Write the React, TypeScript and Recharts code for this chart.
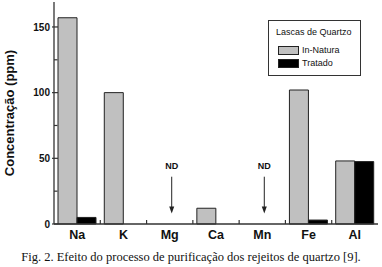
import React from 'react';
import { BarChart, Bar, XAxis, YAxis, Legend, ReferenceLine } from 'recharts';

const elements = ['Na', 'K', 'Mg', 'Ca', 'Mn', 'Fe', 'Al'];
const inNatura = [157, 100, 0, 12, 0, 102, 48];
const tratado = [5, 0, 0, 0, 0, 3, 47.5];
const yTicks = [0, 25, 50, 75, 100, 125, 150];
const yMajorStep = 50;
const yMax = 169;
const seriesNames = ['In-Natura', 'Tratado'];
const seriesColors = ['#c0c0c0', '#000000'];
const legendTitle = 'Lascas de Quartzo';
const yLabel = 'Concentração (ppm)';
const caption = 'Fig. 2. Efeito do processo de purificação dos rejeitos de quartzo [9].';
const ndElements = ['Mg', 'Mn'];
const ndArrowTop = 36;
const ndArrowTip = 8;
const ndText = 'ND';

const data = elements.map((e, i) => ({ element: e, inNatura: inNatura[i], tratado: tratado[i] }));

const FONT = '"Liberation Sans", Arial, Helvetica, sans-serif';
const AXIS = '#333';
const Y_MARGIN = 4;
const X_MARGIN = 6;

const YTick = (props: any) => {
  const { x, y, payload } = props;
  const v = payload.value;
  const axisX = x + Y_MARGIN;
  const major = v % yMajorStep === 0;
  return (
    <g>
      <line x1={major ? axisX - 2 : axisX} x2={axisX + (major ? 4 : 3.5)} y1={y} y2={y} stroke={AXIS} strokeWidth={1.2} />
      {major && (
        <text x={x} y={y} dy="0.36em" textAnchor="end" fontSize={10} fontWeight="bold" fill="#111" fontFamily={FONT}>
          {v}
        </text>
      )}
    </g>
  );
};

const XTick = (props: any) => {
  const { x, y, payload, index } = props;
  const axisY = y - X_MARGIN;
  const half = typeof payload.offset === 'number' && payload.offset > 0 ? payload.offset : 23.15;
  const last = index === elements.length - 1;
  return (
    <g>
      {!last && <line x1={x + half} x2={x + half} y1={axisY} y2={axisY - 4} stroke={AXIS} strokeWidth={1.2} />}
      <text x={x} y={y} dy="0.71em" textAnchor="middle" fontSize={12.5} fontWeight="bold" fill="#111" fontFamily={FONT}>
        {payload.value}
      </text>
    </g>
  );
};

const ArrowShape = (props: any) => {
  const { x1, y1, x2, y2 } = props;
  const ax = x1 + 2;
  return (
    <g>
      <text x={ax} y={y1 - 7.5} textAnchor="middle" fontSize={9} fontWeight="bold" fill="#111" fontFamily={FONT}>
        {ndText}
      </text>
      <line x1={ax} y1={y1} x2={ax} y2={y2 - 6} stroke="#222" strokeWidth={1} />
      <polygon points={`${ax - 2.5},${y2 - 7} ${ax + 2.5},${y2 - 7} ${ax},${y2}`} fill="#222" />
    </g>
  );
};

const YLabel = (props: any) => {
  const vb = props.viewBox || { x: 0, y: 2, width: 54, height: 222 };
  const cx = vb.x + 9.5;
  const cy = vb.y + vb.height / 2;
  return (
    <text
      x={cx}
      y={cy}
      transform={`rotate(-90 ${cx} ${cy})`}
      textAnchor="middle"
      dominantBaseline="central"
      fontSize={13}
      fontWeight="bold"
      fill="#111"
      fontFamily={FONT}
    >
      {yLabel}
    </text>
  );
};

const LegendBox = () => (
  <div
    style={{
      position: 'relative',
      width: 93,
      height: 56,
      boxSizing: 'border-box',
      border: '1px solid #333',
      background: '#fff',
      fontFamily: FONT,
      fontSize: 9,
      color: '#111',
    }}
  >
    <div style={{ position: 'absolute', left: 7, top: 6, lineHeight: '11px', whiteSpace: 'nowrap' }}>{legendTitle}</div>
    {seriesNames.map((n, i) => (
      <div key={n} style={{ position: 'absolute', left: 9, top: 25 + i * 12.8, height: 9, display: 'flex', alignItems: 'center' }}>
        <div style={{ width: 19, height: 7, background: seriesColors[i], border: '0.8px solid #222' }} />
        <span style={{ marginLeft: 3, lineHeight: '9px', whiteSpace: 'nowrap' }}>{n}</span>
      </div>
    ))}
  </div>
);

export default function App() {
  return (
    <div style={{ position: 'absolute', left: 0, top: 0, width: 382, height: 267, background: '#fff' }}>
      <BarChart
        width={382}
        height={245}
        data={data}
        margin={{ top: 2, right: 4, left: 0, bottom: 0 }}
        barGap={0}
        barSize={19}
      >
        <XAxis
          dataKey="element"
          type="category"
          height={21}
          tickSize={0}
          tickMargin={X_MARGIN}
          tickLine={false}
          axisLine={{ stroke: AXIS, strokeWidth: 1.3 }}
          tick={<XTick />}
          interval={0}
        />
        <XAxis
          xAxisId="top"
          dataKey="element"
          orientation="top"
          height={0}
          tick={false}
          tickLine={false}
          axisLine={{ stroke: AXIS, strokeWidth: 1.2 }}
        />
        <YAxis
          type="number"
          domain={[0, yMax]}
          ticks={yTicks}
          width={54}
          tickSize={0}
          tickMargin={Y_MARGIN}
          tickLine={false}
          axisLine={{ stroke: AXIS, strokeWidth: 1.3 }}
          tick={<YTick />}
          interval={0}
          label={<YLabel />}
        />
        <YAxis
          yAxisId="right"
          orientation="right"
          type="number"
          domain={[0, yMax]}
          width={0}
          tick={false}
          tickLine={false}
          axisLine={{ stroke: AXIS, strokeWidth: 1.2 }}
        />
        <Legend
          layout="vertical"
          align="center"
          verticalAlign="middle"
          content={<LegendBox />}
          wrapperStyle={{ position: 'absolute', left: 268, top: 20, width: 93, height: 56 }}
        />
        <Bar dataKey="inNatura" name={seriesNames[0]} fill={seriesColors[0]} stroke="#222" strokeWidth={1} isAnimationActive={false} />
        <Bar dataKey="tratado" name={seriesNames[1]} fill={seriesColors[1]} stroke="#222" strokeWidth={1} isAnimationActive={false} />
        {ndElements.map((el) => (
          <ReferenceLine
            key={el}
            segment={[
              { x: el, y: ndArrowTop },
              { x: el, y: ndArrowTip },
            ]}
            shape={<ArrowShape />}
          />
        ))}
      </BarChart>
      <div
        style={{
          position: 'absolute',
          left: 0,
          top: 249,
          width: 382,
          textAlign: 'center',
          fontFamily: '"Liberation Serif", "Times New Roman", serif',
          fontSize: 12.5,
          lineHeight: '16px',
          color: '#111',
          whiteSpace: 'nowrap',
        }}
      >
        {caption}
      </div>
    </div>
  );
}
